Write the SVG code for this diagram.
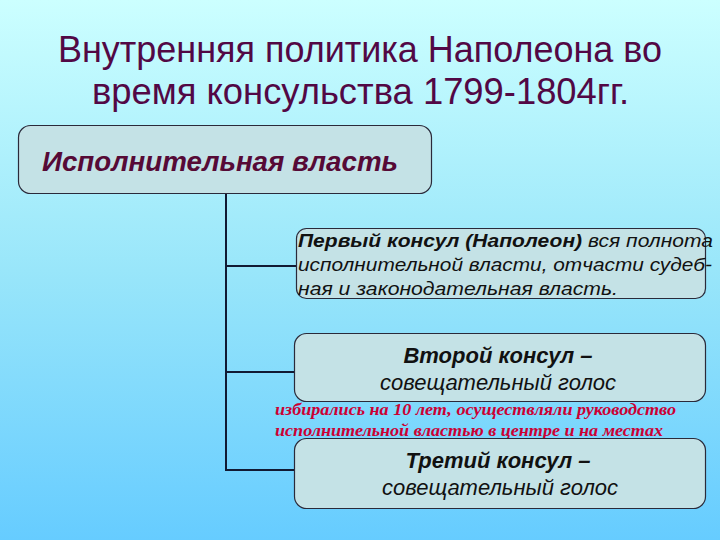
<svg xmlns="http://www.w3.org/2000/svg" width="720" height="540" viewBox="0 0 720 540">
<defs>
<linearGradient id="bg" x1="0" y1="0" x2="0" y2="1">
<stop offset="0" stop-color="#ccffff"/>
<stop offset="0.5" stop-color="#99e6fa"/>
<stop offset="1" stop-color="#66ccff"/>
</linearGradient>
<style>
.box{fill:#c4e2e6;stroke:#2a2a3a;stroke-width:1.2}
.title{font-family:"Liberation Sans",Arial,sans-serif;font-size:37px;fill:#520845}
.exec{font-family:"Liberation Sans",Arial,sans-serif;font-size:28px;font-weight:bold;font-style:italic;fill:#560a36}
.t{font-family:"Liberation Sans",Arial,sans-serif;font-size:17.5px;font-style:italic;fill:#111}
.c{font-family:"Liberation Sans",Arial,sans-serif;font-size:22px;font-style:italic;fill:#111;text-anchor:middle}
.b{font-weight:bold}
.red{font-family:"Liberation Serif","Times New Roman",serif;font-size:17.5px;font-weight:bold;font-style:italic;fill:#cc0033}
.conn{stroke:#111a33;stroke-width:2;fill:none}
</style>
</defs>
<rect width="720" height="540" fill="url(#bg)"/>
<g id="title">
<text class="title" x="58" y="62" textLength="604" lengthAdjust="spacingAndGlyphs">Внутренняя политика Наполеона во</text>
<text class="title" x="92" y="104" textLength="537" lengthAdjust="spacingAndGlyphs">время консульства 1799-1804гг.</text>
</g>
<g id="connectors">
<path class="conn" d="M226 193 V470 H295 M226 266 H296 M226 372 H294"/>
</g>
<g id="exec">
<rect class="box" x="18.5" y="125.5" width="413" height="68" rx="12"/>
<text class="exec" x="42" y="171" textLength="356" lengthAdjust="spacingAndGlyphs">Исполнительная власть</text>
</g>
<g id="consul1">
<rect class="box" x="296.5" y="228.5" width="409" height="70" rx="10"/>
<text class="t" x="298" y="247" textLength="415" lengthAdjust="spacingAndGlyphs"><tspan class="b">Первый консул (Наполеон)</tspan> вся полнота</text>
<text class="t" x="298" y="271" textLength="414" lengthAdjust="spacingAndGlyphs">исполнительной власти, отчасти судеб-</text>
<text class="t" x="298" y="295" textLength="320" lengthAdjust="spacingAndGlyphs">ная и законодательная власть.</text>
</g>
<g id="consul2">
<rect class="box" x="294.5" y="333.5" width="411" height="68" rx="12"/>
<text class="c b" x="498" y="363">Второй консул –</text>
<text class="c" x="498" y="390">совещательный голос</text>
</g>
<g id="note">
<text class="red" x="275" y="415" textLength="401" lengthAdjust="spacingAndGlyphs">избирались на 10 лет, осуществляли руководство</text>
<text class="red" x="275" y="436" textLength="388" lengthAdjust="spacingAndGlyphs">исполнительной властью в центре и на местах</text>
</g>
<g id="consul3">
<rect class="box" x="294.5" y="438.5" width="411" height="70" rx="12"/>
<text class="c b" x="498" y="468">Третий консул –</text>
<text class="c" x="500" y="495">совещательный голос</text>
</g>
</svg>
